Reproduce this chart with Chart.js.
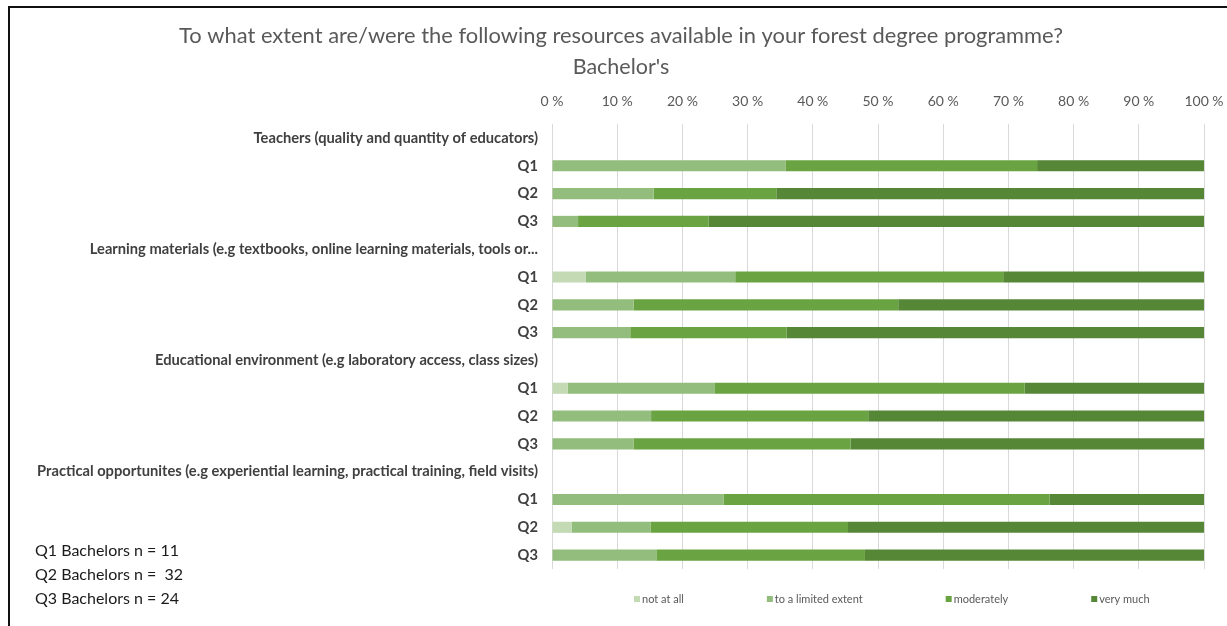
<!DOCTYPE html>
<html>
<head>
<meta charset="utf-8">
<script src="https://cdn.jsdelivr.net/npm/chart.js@4"></script>
<style>
  html, body { margin: 0; padding: 0; background: #fff; }
  #wrap { position: relative; width: 1227px; height: 626px; overflow: hidden; }
  #frame { position: absolute; left: 8px; top: 6px; width: 1300px; height: 700px;
           border-top: 2px solid #111; border-left: 2px solid #111; pointer-events: none; }
  #notes { position: absolute; left: 35px; top: 538px; font-family: Lato, sans-serif;
           font-size: 16px; line-height: 24px; color: #1a1a1a; white-space: pre; }
</style>
</head>
<body>
<div id="wrap">
  <canvas id="myChart" width="1227" height="626"></canvas>
  <div id="frame"></div>
  <div id="notes">Q1 Bachelors n = 11
Q2 Bachelors n =  32
Q3 Bachelors n = 24</div>
</div>
<script>
const rows = [
  'Teachers (quality and quantity of educators)', 'Q1', 'Q2', 'Q3',
  'Learning materials (e.g textbooks, online learning materials, tools or...', 'Q1', 'Q2', 'Q3',
  'Educational environment (e.g laboratory access, class sizes)', 'Q1', 'Q2', 'Q3',
  'Practical opportunites (e.g experiential learning, practical training, field visits)', 'Q1', 'Q2', 'Q3'
];

// shares in %, header rows left empty
const notAtAll  = [null, 0,    0,    0,  null, 5.2,  0,    0,  null, 2.4,  0,    0,    null, 0,    3.0,  0];
const limited   = [null, 35.8, 15.6, 4,  null, 22.9, 12.5, 12, null, 22.5, 15.2, 12.5, null, 26.3, 12.1, 16];
const moderate  = [null, 38.6, 18.8, 20, null, 41.1, 40.6, 24, null, 47.6, 33.3, 33.3, null, 50,   30.3, 32];
const veryMuch  = [null, 25.6, 65.6, 76, null, 30.8, 46.9, 64, null, 27.5, 51.5, 54.2, null, 23.7, 54.6, 52];

const seriesNames = ['not at all', 'to a limited extent', 'moderately', 'very much'];
const seriesColors = ['#c3dab5', '#93bd7c', '#6aa342', '#568737'];

const FONT = 'Lato, sans-serif';
const PAD_LEFT = 38;

// legend drawn under the plot, items spaced out like the office-style legend
const bottomLegend = {
  id: 'bottomLegend',
  afterDraw(chart) {
    const ctx = chart.ctx;
    ctx.save();
    ctx.font = '11px ' + FONT;
    ctx.textBaseline = 'middle';
    let x = 634;
    const y = 599;
    chart.data.datasets.forEach(ds => {
      ctx.fillStyle = ds.backgroundColor;
      ctx.fillRect(x, y - 3, 6, 6);
      ctx.fillStyle = '#595959';
      ctx.fillText(ds.label, x + 8, y);
      x += 8 + ctx.measureText(ds.label).width + 83;
    });
    ctx.restore();
  }
};

const ctx = document.getElementById('myChart').getContext('2d');
const myChart = new Chart(ctx, {
  type: 'bar',
  data: {
    labels: rows,
    datasets: [notAtAll, limited, moderate, veryMuch].map((vals, i) => ({
      label: seriesNames[i],
      data: vals,
      backgroundColor: seriesColors[i],
      borderWidth: 0,
      barPercentage: 0.4,
      categoryPercentage: 1
    }))
  },
  options: {
    indexAxis: 'y',
    responsive: false,
    animation: false,
    layout: { padding: { left: PAD_LEFT, right: 23, top: 0, bottom: 57 } },
    scales: {
      x: {
        position: 'top',
        stacked: true,
        min: 0,
        max: 100,
        ticks: {
          stepSize: 10,
          padding: 14,
          color: '#595959',
          font: { family: FONT, size: 14 },
          callback: v => v + ' %'
        },
        grid: { color: '#d9d9d9', drawTicks: false },
        border: { display: false },
        afterFit: s => { s.height = 44; s.paddingLeft = 0; s.paddingRight = 0; }
      },
      y: {
        stacked: true,
        ticks: {
          padding: 14,
          color: '#404040',
          font: { family: FONT, size: 14.7, weight: 'bold' },
          autoSkip: false
        },
        grid: { display: false, drawTicks: false },
        border: { display: false },
        afterFit: s => { s.width = 552 - PAD_LEFT; }
      }
    },
    plugins: {
      legend: { display: false },
      tooltip: { enabled: false },
      title: {
        display: true,
        text: 'To what extent are/were the following resources available in your forest degree programme?',
        color: '#595959',
        font: { family: FONT, size: 21.9, weight: 'normal' },
        padding: { top: 23, bottom: 4 }
      },
      subtitle: {
        display: true,
        text: "Bachelor's",
        color: '#595959',
        font: { family: FONT, size: 21.5, weight: 'normal' },
        padding: { top: 1, bottom: 0 }
      }
    }
  },
  plugins: [bottomLegend]
});
</script>
</body>
</html>
